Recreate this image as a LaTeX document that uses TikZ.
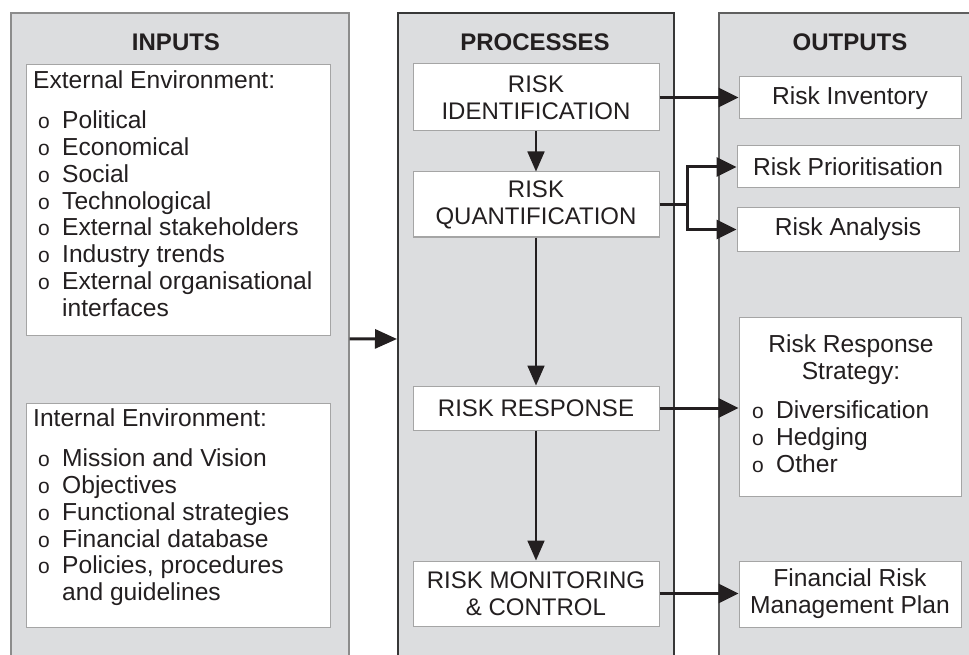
\documentclass[tikz,border=0pt]{standalone}
\usepackage{fontspec}
\setmainfont{Liberation Sans}
\usetikzlibrary{arrows.meta,calc}

\definecolor{panelfill}{RGB}{220,221,223}
\definecolor{ink}{RGB}{35,31,32}
\definecolor{boxline}{RGB}{165,165,165}
\definecolor{inframe}{RGB}{140,140,140}
\definecolor{procframe}{RGB}{55,55,55}
\definecolor{outframe}{RGB}{95,95,95}

% hanging bullet used in the lists
\newcommand{\bul}{\makebox[29pt][l]{\hspace{5pt}{\fontsize{21}{21}\selectfont o}}}
\newcommand{\hang}{\makebox[29pt][l]{}}

\begin{document}
\begin{tikzpicture}[x=1pt,y=-1pt,
  txt/.style={font=\fontsize{24.6}{26.8}\selectfont, text=ink, inner sep=0pt},
  title/.style={font=\fontsize{24}{26.8}\selectfont\bfseries, text=ink, inner sep=0pt},
  panel/.style={fill=panelfill, line width=1.6pt, minimum height=652pt, anchor=north west, inner sep=0pt},
  wbox/.style={draw=boxline, fill=white, line width=1pt, inner sep=0pt},
  pbox/.style={wbox, align=center, font=\fontsize{24}{27}\selectfont, text=ink},
  obox/.style={wbox, align=center, font=\fontsize{24.6}{27}\selectfont, text=ink},
  flow/.style={draw=ink, line width=3pt, -{Triangle[length=20pt,width=19pt]}},
  bigflow/.style={draw=ink, line width=3pt, -{Triangle[length=22pt,width=19pt]}},
  vflow/.style={draw=ink, line width=1.8pt, -{Triangle[length=20pt,width=17pt]}}
]
\useasboundingbox (0,0) rectangle (969,655);
\clip (0,0) rectangle (969,655);

% the three columns
\node[panel, draw=inframe, minimum width=338pt] (inputs) at (10,12) {};
\node[panel, draw=procframe, line width=2pt, minimum width=276pt] (processes) at (397,12) {};
\node[panel, draw=outframe, line width=2pt, minimum width=290pt] (outputs) at (718,12) {};

\node[title] (tin) at (176,42) {INPUTS};
\node[title] (tproc) at (535,42) {PROCESSES};
\node[title] (tout) at (850,42) {OUTPUTS};

% inputs
\node[wbox, anchor=north west, minimum width=304pt, minimum height=271pt] (ext) at (26,64) {};
\node[txt, align=left, anchor=north west] (extlist) at (33,70.6) {External Environment:\\[13.2pt]
  \bul Political\\ \bul Economical\\ \bul Social\\ \bul Technological\\
  \bul External stakeholders\\ \bul Industry trends\\ \bul External organisational\\ \hang interfaces};

\node[wbox, anchor=north west, minimum width=304pt, minimum height=224pt] (int) at (26,403) {};
\node[txt, align=left, anchor=north west] (intlist) at (33,408.6) {Internal Environment:\\[13.2pt]
  \bul Mission and Vision\\ \bul Objectives\\ \bul Functional strategies\\
  \bul Financial database\\ \bul Policies, procedures\\ \hang and guidelines};

% processes
\node[pbox, minimum width=246pt, minimum height=67pt] (ident) at (536,97.5) {RISK\\IDENTIFICATION};
\node[pbox, minimum width=246pt, minimum height=65pt] (quant) at (536,204.5) {RISK\\QUANTIFICATION};
\node[pbox, minimum width=246pt, minimum height=44pt] (resp) at (536,408) {RISK RESPONSE};
\node[pbox, minimum width=246pt, minimum height=65pt] (mon) at (536,593.5) {RISK MONITORING\\\& CONTROL};

% outputs
\node[obox, minimum width=222pt, minimum height=42pt] (inv) at (850,98) {Risk Inventory};
\node[obox, minimum width=222pt, minimum height=42pt] (prio) at (848,167) {Risk Prioritisation};
\node[obox, minimum width=222pt, minimum height=43pt] (anal) at (848,229.5) {Risk Analysis};
\node[wbox, minimum width=222pt, minimum height=179pt] (strat) at (850,406.5) {};
\node[txt, align=center, anchor=north] (strathead) at (851,334.6) {Risk Response\\Strategy:};
\node[txt, align=left, anchor=north west] (stratlist) at (747,400.6) {\bul Diversification\\ \bul Hedging\\ \bul Other};
\node[obox, minimum width=222pt, minimum height=66pt] (plan) at (850,594) {Financial Risk\\Management Plan};

% connectors
\draw[bigflow] (inputs.east) -- (processes.west);

\draw[vflow] (ident.south) -- (quant.north);
\draw[vflow] (quant.south) -- (resp.north);
\draw[vflow] (resp.south) -- (mon.north);

\coordinate (fork) at ($(quant.east)+(28,0)$);
\draw[flow] (ident.east) -- (ident.east -| inv.west);
\draw[flow] (quant.east) -- (fork) |- (prio.west);
\draw[flow] (fork) |- (anal.west);
\draw[flow] (resp.east) -- (resp.east -| strat.west);
\draw[flow] (mon.east) -- (mon.east -| plan.west);
\end{tikzpicture}
\end{document}
